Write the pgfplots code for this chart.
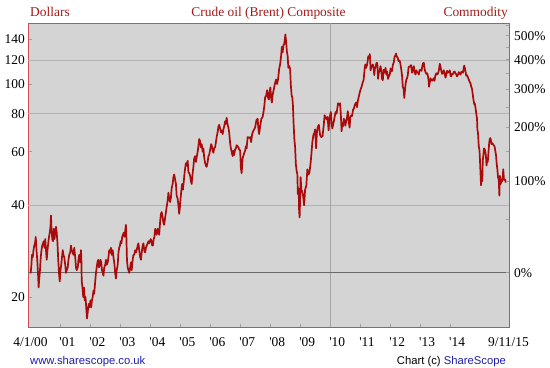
\documentclass[border=0pt]{standalone}
\usepackage{pgfplots}
\pgfplotsset{compat=1.18}
\usepackage{fontspec}
\setmainfont{Liberation Serif}
\setsansfont{Liberation Sans}
\definecolor{bgc}{RGB}{212,212,212}
\definecolor{bordc}{RGB}{205,80,80}
\definecolor{linec}{RGB}{170,10,10}
\definecolor{titlec}{RGB}{165,25,25}
\definecolor{gridc}{RGB}{178,178,178}
\definecolor{zeroc}{RGB}{105,105,105}
\definecolor{vlinec}{RGB}{165,165,165}
\definecolor{tickc}{RGB}{160,160,160}
\definecolor{linkc}{RGB}{30,30,170}
\pgfplotstableread{
t p
0.1 23.9
0.4 25.0
0.7 27.5
1.0 27.0
1.3 28.5
1.6 29.5
1.9 30.0
2.2 31.5
2.5 28.5
2.8 26.5
3.1 24.0
3.35 21.5
3.6 23.0
3.9 24.5
4.2 27.0
4.5 28.5
4.8 29.5
5.1 30.0
5.4 30.5
5.7 29.0
6.0 31.0
6.3 28.5
6.6 26.5
6.9 28.5
7.2 30.0
7.5 31.5
7.8 32.5
8.1 34.0
8.3 37.0
8.5 33.5
8.8 31.0
9.1 30.5
9.4 33.5
9.7 31.0
10.0 32.5
10.3 34.0
10.6 32.5
10.9 30.0
11.2 26.5
11.5 24.0
11.8 22.5
12.1 24.5
12.4 25.5
12.7 27.0
13.0 28.5
13.3 27.5
13.6 27.0
14.0 25.5
14.3 24.0
14.6 24.5
15.0 25.0
15.3 26.5
15.6 27.5
16.0 28.0
16.3 29.5
16.6 28.5
17.0 28.0
17.3 27.5
17.6 29.0
18.0 27.0
18.3 25.0
18.6 24.5
19.0 25.0
19.3 26.5
19.6 27.5
20.0 26.0
20.3 28.5
20.45 27.0
20.6 22.5
20.9 21.5
21.2 20.0
21.5 21.5
21.8 19.5
22.1 20.0
22.4 18.5
22.7 17.0
22.9 17.5
23.2 18.5
23.5 19.0
23.8 18.5
24.1 19.5
24.4 18.5
24.7 19.5
25.0 20.0
25.3 21.0
25.6 20.5
26.0 22.5
26.3 24.0
26.6 25.0
26.9 26.0
27.2 26.5
27.5 25.0
27.8 25.5
28.1 26.5
28.4 26.0
28.7 24.5
29.0 24.0
29.3 23.5
29.6 25.0
30.0 25.5
30.3 26.5
30.6 25.5
31.0 26.0
31.3 27.0
31.6 28.5
32.0 28.0
32.3 29.0
32.6 27.5
33.0 28.5
33.3 27.0
33.6 26.0
34.0 24.0
34.3 23.0
34.6 24.5
35.0 25.5
35.3 28.0
35.6 29.0
35.9 29.5
36.2 30.5
36.5 30.0
36.8 31.5
37.1 32.0
37.4 32.5
37.7 31.5
38.0 33.0
38.3 34.5
38.5 31.0
38.7 26.5
39.0 25.0
39.3 24.5
39.6 24.0
40.0 25.0
40.3 26.0
40.6 24.5
41.0 26.5
41.3 27.5
41.6 27.5
42.0 28.5
42.3 28.0
42.6 28.5
43.0 29.5
43.3 30.0
43.6 28.5
44.0 27.0
44.3 26.5
44.6 28.0
45.0 29.5
45.3 30.0
45.6 28.5
46.0 28.0
46.3 29.0
46.6 29.5
47.0 30.0
47.3 30.5
47.6 30.0
48.2 31.0
48.5 30.5
48.8 29.5
49.1 29.5
49.4 31.0
49.7 31.5
50.0 33.5
50.3 32.5
50.6 32.0
51.0 33.5
51.3 33.0
51.6 32.0
52.0 35.5
52.3 37.5
52.6 38.0
53.0 36.5
53.3 35.0
53.6 34.5
54.0 36.5
54.3 38.0
54.6 39.5
55.0 41.5
55.3 44.0
55.6 42.0
56.0 41.0
56.3 42.5
56.6 45.5
57.0 47.0
57.3 49.5
57.6 50.5
58.0 48.5
58.3 47.0
58.6 43.0
59.0 42.0
59.3 40.0
59.6 37.5
59.9 39.5
60.2 42.5
60.5 45.0
60.8 47.0
61.1 45.0
61.4 47.5
61.7 50.5
62.0 53.0
62.3 55.0
62.6 54.0
63.0 56.0
63.3 51.5
63.6 51.0
64.0 50.0
64.3 48.0
64.6 47.0
65.0 51.0
65.3 53.5
65.6 57.0
66.0 58.0
66.3 55.5
66.6 57.5
67.0 60.0
67.3 62.5
67.6 66.0
68.0 65.0
68.3 62.0
68.6 63.5
69.0 60.0
69.3 61.5
69.6 57.5
70.0 55.0
70.3 54.0
70.6 53.5
71.0 55.5
71.3 58.0
71.6 58.5
72.1 61.5
72.4 63.5
72.7 62.5
73.0 60.5
73.3 59.5
73.6 61.5
74.0 62.0
74.3 64.5
74.6 67.0
75.0 69.5
75.3 72.5
75.6 73.5
76.0 71.5
76.3 69.5
76.6 70.5
77.0 68.5
77.3 71.0
77.6 72.5
78.0 75.5
78.3 74.0
78.6 77.5
79.0 73.5
79.3 72.0
79.6 69.5
80.0 64.0
80.3 61.5
80.6 60.0
81.0 58.0
81.3 60.5
81.6 58.5
82.0 61.0
82.3 61.5
82.6 63.0
83.0 62.5
83.3 62.0
83.6 61.0
84.0 60.5
84.3 53.0
84.6 51.0
85.0 57.0
85.5 59.0
86.0 60.5
86.3 62.5
86.6 61.5
87.0 67.0
87.5 66.5
88.0 67.0
88.4 64.5
88.8 68.5
89.2 70.0
89.6 71.0
90.0 72.0
90.5 76.0
91.0 77.0
91.3 71.5
91.6 68.5
92.0 72.5
92.5 77.0
93.0 78.0
93.4 81.5
93.7 85.0
94.0 90.5
94.4 91.5
94.8 95.5
95.2 90.0
95.5 89.0
95.8 94.5
96.1 97.5
96.4 90.0
96.7 87.0
97.0 92.0
97.5 96.5
98.0 101.0
98.4 103.5
98.8 100.0
99.2 104.0
99.6 112.0
100.0 116.0
100.4 124.0
100.7 132.5
101.0 127.0
101.3 134.0
101.6 135.0
101.9 140.5
102.1 145.5
102.4 138.0
102.7 128.0
103.0 124.0
103.3 113.0
103.7 114.5
104.0 112.0
104.3 99.0
104.6 92.0
104.9 90.0
105.1 86.0
105.4 74.0
105.7 66.0
106.0 62.0
106.3 54.5
106.6 52.0
106.9 50.5
107.1 43.5
107.4 45.5
107.6 38.5
107.8 36.5
108.0 42.0
108.2 49.5
108.5 45.0
108.8 44.5
109.2 43.0
109.6 40.0
110.0 45.0
110.5 46.5
110.9 52.5
111.3 50.5
111.7 51.0
112.2 55.0
112.6 60.0
112.9 64.5
113.3 68.0
113.7 69.0
114.0 71.0
114.4 61.5
114.7 69.0
115.0 72.0
115.5 73.5
116.0 68.0
116.5 67.0
117.0 67.5
117.5 74.0
117.8 79.0
118.3 77.5
118.7 76.5
119.0 78.0
119.4 70.5
119.8 77.5
120.3 81.0
120.6 74.0
120.9 71.5
121.2 73.5
121.5 75.5
121.8 78.0
122.2 81.0
122.6 80.0
123.0 84.5
123.2 86.5
123.6 85.5
124.0 86.5
124.3 79.5
124.6 70.0
124.8 73.5
125.1 72.5
125.5 77.0
125.8 75.5
126.1 73.0
126.5 76.0
126.8 78.0
127.1 81.5
127.4 76.0
127.8 72.0
128.1 78.0
128.5 79.0
128.8 78.5
129.2 82.5
129.5 83.0
129.9 85.5
130.2 86.5
130.5 87.0
130.8 84.0
131.1 88.0
131.5 91.0
131.9 94.0
132.2 96.0
132.6 98.0
133.0 101.0
133.4 103.0
133.8 111.5
134.1 116.0
134.4 113.0
134.7 115.0
135.0 118.5
135.3 123.5
135.6 121.5
135.9 125.5
136.1 117.0
136.2 111.0
136.5 113.5
136.8 115.0
137.1 116.0
137.4 113.0
137.7 107.0
137.9 112.0
138.3 115.0
138.6 117.5
138.9 117.0
139.2 104.0
139.5 109.0
139.8 111.0
140.2 114.5
140.5 110.0
140.8 104.0
141.1 103.0
141.4 111.5
141.8 109.0
142.2 113.0
142.5 107.5
142.8 110.0
143.2 104.0
143.5 106.0
143.9 107.5
144.2 112.5
144.5 110.0
144.8 110.5
145.1 115.5
145.5 118.0
145.8 123.0
146.1 124.0
146.4 126.0
146.7 123.0
147.0 122.5
147.4 119.0
147.8 119.5
148.1 117.0
148.5 111.5
148.8 106.5
149.1 98.0
149.4 96.5
149.7 90.0
149.9 94.0
150.2 100.0
150.5 103.5
150.8 104.5
151.1 107.0
151.4 113.5
151.8 114.5
152.1 114.0
152.4 115.5
152.8 109.0
153.1 112.0
153.5 114.5
153.8 109.5
154.2 107.5
154.5 111.0
154.8 109.5
155.2 109.0
155.5 107.5
155.8 111.0
156.2 111.5
156.6 110.5
156.9 114.5
157.2 117.0
157.5 117.5
157.8 112.5
158.1 110.0
158.5 108.0
158.8 108.5
159.1 107.0
159.4 103.0
159.6 98.0
159.9 101.5
160.2 104.5
160.5 103.0
160.8 102.5
161.1 103.0
161.4 104.5
161.8 102.5
162.1 106.5
162.5 108.5
162.8 107.5
163.1 108.0
163.5 110.5
163.9 116.5
164.1 115.0
164.5 110.5
164.8 108.0
165.1 108.5
165.5 111.0
165.8 109.0
166.2 105.0
166.5 107.5
166.8 110.5
167.2 109.0
167.5 109.5
167.9 111.0
168.2 106.5
168.5 106.0
168.8 108.0
169.2 108.0
169.5 109.5
169.8 110.0
170.2 108.5
170.5 107.5
170.8 106.0
171.2 107.5
171.5 109.5
171.8 108.5
172.2 107.5
172.5 109.5
172.8 110.0
173.2 109.0
173.5 113.5
173.7 115.0
173.9 113.0
174.2 110.0
174.5 106.5
174.8 107.0
175.2 105.0
175.5 103.5
175.8 102.0
176.2 100.5
176.5 98.0
176.8 96.5
177.1 92.5
177.4 88.5
177.7 86.0
177.9 86.5
178.2 83.5
178.5 80.0
178.8 77.0
178.95 71.0
179.2 69.0
179.5 62.5
179.8 60.5
179.95 57.0
180.2 51.0
180.4 46.5
180.6 48.5
180.9 48.0
181.1 56.0
181.4 59.0
181.6 61.5
181.9 61.0
182.2 59.5
182.4 57.5
182.6 54.0
182.9 56.5
183.1 55.5
183.4 60.0
183.7 64.5
183.9 66.0
184.2 66.5
184.4 65.0
184.6 63.5
184.9 64.0
185.2 63.5
185.5 63.0
185.8 62.5
186.1 60.5
186.4 58.5
186.7 54.5
186.95 52.5
187.2 49.5
187.5 48.5
187.75 43.0
187.95 50.0
188.1 49.0
188.3 47.0
188.6 48.5
188.9 48.0
189.1 49.5
189.3 52.5
189.6 48.5
189.9 48.5
190.1 48.5
190.3 47.5
}\brent
\begin{document}
\begin{tikzpicture}
\useasboundingbox (-28bp,-41bp) rectangle (522bp,327bp);
\begin{axis}[
  at={(0bp,0bp)}, anchor=south west,
  scale only axis, width=481bp, height=304bp,
  xmin=-0.9, xmax=191.6,
  ymode=log, ymin=15.94, ymax=158.7,
  axis background/.style={fill=bgc},
  axis line style={draw=bordc, line width=0.8bp},
  tick align=inside,
  major tick length=3.5bp,
  every tick/.style={draw=tickc, line width=0.6bp},
  xtick pos=bottom, ytick pos=left,
  ytick={20,40,60,80,100,120,140},
  yticklabels={20,40,60,80,100,120,140},
  xtick={12,24,36,48,60,72,84,96,108,120,132,144,156,168},
  xticklabels={\textquotesingle01,\textquotesingle02,\textquotesingle03,\textquotesingle04,\textquotesingle05,\textquotesingle06,\textquotesingle07,\textquotesingle08,\textquotesingle09,\textquotesingle10,\textquotesingle11,\textquotesingle12,\textquotesingle13,\textquotesingle14},
  /pgf/number format/assume math mode=true,
  ticklabel style={font=\fontsize{13.5}{16}\selectfont, inner sep=0pt},
  xticklabel style={anchor=base west, xshift=-1bp, yshift=-20bp},
  yticklabel style={anchor=east, xshift=-3bp},
  extra x ticks={0.1,191.4},
  extra x tick labels={4/1/00,9/11/15},
  extra x tick style={major tick length=0pt, xticklabel style={anchor=base, xshift=1bp}},
  extra y ticks={40,80,120},
  extra y tick labels={},
  extra y tick style={grid=major, major grid style={draw=gridc, line width=0.8bp}, major tick length=0pt},
  clip=true,
]
\draw[draw=vlinec, line width=0.8bp] (axis cs:120,15.94) -- (axis cs:120,158.7);
\draw[draw=zeroc, line width=0.9bp] (axis cs:-0.9,24.03) -- (axis cs:191.6,24.03);
\addplot[color=linec, line width=1.7bp, line join=round, mark=none] table[x=t,y=p] {\brent};
\end{axis}
\begin{axis}[
  at={(0bp,0bp)}, anchor=south west,
  scale only axis, width=481bp, height=304bp,
  xmin=-0.9, xmax=191.6,
  ymode=log, ymin=15.94, ymax=158.7,
  axis x line=none, axis y line*=right,
  axis line style={draw=bordc, line width=0.8bp, -},
  tick align=inside,
  major tick length=3.5bp, minor tick length=3.5bp,
  every tick/.style={draw=tickc, line width=0.6bp},
  ytick={24.03,48.06,72.09,96.12,120.15,144.18},
  yticklabels={0\%,100\%,200\%,300\%,400\%,500\%},
  minor ytick={36.05,60.08,84.11,108.14,132.17,156.2},
  ticklabel style={font=\fontsize{13.5}{16}\selectfont, inner sep=0pt},
  yticklabel style={anchor=west, xshift=5bp},
]
\end{axis}
\node[anchor=base west, inner sep=0pt, text=titlec, font=\fontsize{13.5}{16}\selectfont] at (2bp,310bp) {Dollars};
\node[anchor=base, inner sep=0pt, text=titlec, font=\fontsize{13.5}{16}\selectfont] at (240.5bp,310bp) {Crude oil (Brent) Composite};
\node[anchor=base east, inner sep=0pt, text=titlec, font=\fontsize{13.5}{16}\selectfont] at (480bp,310bp) {Commodity};
\node[anchor=base west, inner sep=0pt, text=linkc, font=\sffamily\fontsize{11.3}{13}\selectfont] at (2bp,-37.5bp) {www.sharescope.co.uk};
\node[anchor=base east, inner sep=0pt, font=\sffamily\fontsize{11.3}{13}\selectfont] at (478bp,-37.5bp) {Chart (c) \textcolor{linkc}{ShareScope}};
\end{tikzpicture}
\end{document}
